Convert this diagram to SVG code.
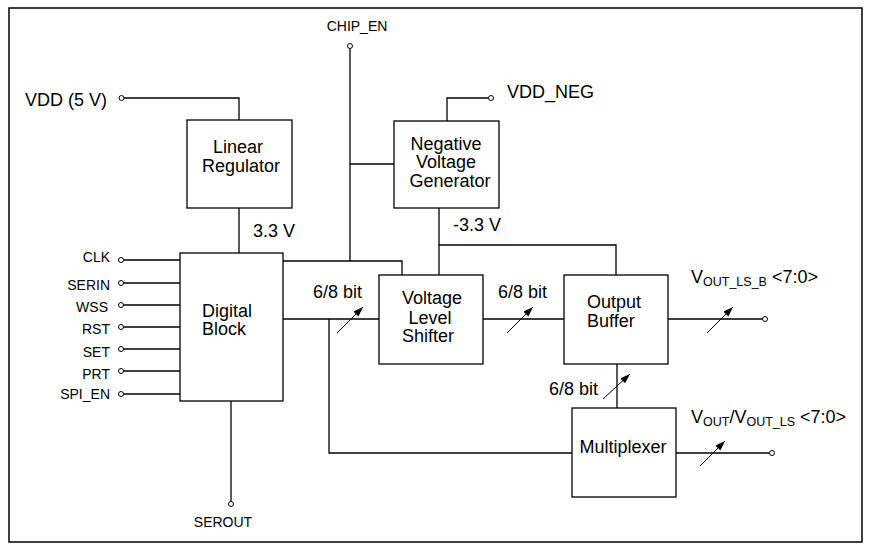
<svg xmlns="http://www.w3.org/2000/svg" width="870" height="552" viewBox="0 0 870 552">
<style>
.box{fill:#fff;stroke:#000;stroke-width:1.3}
.w{fill:none;stroke:#000;stroke-width:1.3}
.s{fill:none;stroke:#000;stroke-width:1}
.pin{fill:#fff;stroke:#000;stroke-width:1}
text{font-family:"Liberation Sans",Arial,sans-serif;fill:#000}
.t{font-size:18px}
.p{font-size:14px}
.c{text-anchor:middle}
.e{text-anchor:end}
.sub{font-size:12.5px}
</style>
<defs>
<marker id="ah" markerUnits="userSpaceOnUse" markerWidth="11" markerHeight="8" refX="10" refY="3.5" orient="auto">
<path d="M0,0 L10,3.5 L0,7 z" fill="#000"/>
</marker>
</defs>
<rect x="9" y="8" width="853" height="534" fill="#fff" stroke="#000" stroke-width="1.5"/>

<g id="connectors">
<path class="w" d="M124,98 H239 V120"/>
<path class="w" d="M239,208 V253"/>
<path class="w" d="M350,48.5 V261"/>
<path class="w" d="M350,164 H394"/>
<path class="w" d="M283,261 H402 V275"/>
<path class="w" d="M283,319 H379"/>
<path class="w" d="M329,319 V453 H572"/>
<path class="w" d="M447,121 V98 H488.5"/>
<path class="w" d="M439,208 V275"/>
<path class="w" d="M439,245 H616 V275"/>
<path class="w" d="M483,319 H564"/>
<path class="w" d="M668,319 H762.5"/>
<path class="w" d="M617,364 V408"/>
<path class="w" d="M676,453 H769.5"/>
<path class="w" d="M123.5,260 H180 M123.5,283 H180 M123.5,305 H180 M123.5,327 H180 M123.5,349 H180 M123.5,371 H180 M123.5,394 H180"/>
<path class="w" d="M231,401 V501.5"/>
<line class="s" x1="337" y1="333" x2="363" y2="307" marker-end="url(#ah)"/>
<line class="s" x1="507" y1="333" x2="533" y2="307" marker-end="url(#ah)"/>
<line class="s" x1="707" y1="333" x2="733" y2="307" marker-end="url(#ah)"/>
<line class="s" x1="603" y1="399" x2="630" y2="374" marker-end="url(#ah)"/>
<line class="s" x1="700" y1="466" x2="725" y2="441" marker-end="url(#ah)"/>
</g>

<g id="terminals">
<circle class="pin" cx="121.5" cy="98" r="2.5"/>
<circle class="pin" cx="350" cy="46" r="2.5"/>
<circle class="pin" cx="491" cy="98" r="2.5"/>
<circle class="pin" cx="765" cy="319" r="2.5"/>
<circle class="pin" cx="772" cy="453" r="2.5"/>
<circle class="pin" cx="231" cy="504" r="2.5"/>
<circle class="pin" cx="121" cy="260" r="2.5"/>
<circle class="pin" cx="121" cy="283" r="2.5"/>
<circle class="pin" cx="121" cy="305" r="2.5"/>
<circle class="pin" cx="121" cy="327" r="2.5"/>
<circle class="pin" cx="121" cy="349" r="2.5"/>
<circle class="pin" cx="121" cy="371" r="2.5"/>
<circle class="pin" cx="121" cy="394" r="2.5"/>
</g>

<g id="linear-regulator">
<rect class="box" x="187" y="120" width="105" height="88"/>
<text class="t c" x="238" y="153">Linear</text>
<text class="t c" x="241" y="172">Regulator</text>
</g>
<g id="digital-block">
<rect class="box" x="180" y="253" width="103" height="148"/>
<text class="t" x="202" y="317">Digital</text>
<text class="t" x="202" y="335">Block</text>
</g>
<g id="negative-voltage-generator">
<rect class="box" x="394" y="121" width="105" height="87"/>
<text class="t c" x="446" y="150">Negative</text>
<text class="t c" x="446" y="168">Voltage</text>
<text class="t c" x="450" y="187">Generator</text>
</g>
<g id="voltage-level-shifter">
<rect class="box" x="379" y="275" width="104" height="89"/>
<text class="t c" x="432" y="304">Voltage</text>
<text class="t c" x="430" y="324">Level</text>
<text class="t c" x="428" y="342">Shifter</text>
</g>
<g id="output-buffer">
<rect class="box" x="564" y="275" width="104" height="89"/>
<text class="t" x="587" y="308">Output</text>
<text class="t" x="587" y="327">Buffer</text>
</g>
<g id="multiplexer">
<rect class="box" x="572" y="408" width="104" height="89"/>
<text class="t c" x="623" y="453">Multiplexer</text>
</g>

<g id="labels">
<text class="t" x="25" y="106">VDD (5 V)</text>
<text class="t" x="507" y="98">VDD_NEG</text>
<text class="p c" x="357" y="31">CHIP_EN</text>
<text class="p c" x="223" y="527">SEROUT</text>
<text class="t" x="253" y="237">3.3 V</text>
<text class="t" x="453" y="231">-3.3 V</text>
<text class="t" x="313" y="298">6/8 bit</text>
<text class="t" x="498" y="298">6/8 bit</text>
<text class="t" x="549" y="395">6/8 bit</text>
<text class="p e" x="110" y="262">CLK</text>
<text class="p e" x="110" y="290">SERIN</text>
<text class="p e" x="108" y="312">WSS</text>
<text class="p e" x="110" y="334">RST</text>
<text class="p e" x="110" y="357">SET</text>
<text class="p e" x="110" y="379">PRT</text>
<text class="p e" x="110" y="399">SPI_EN</text>
<text class="t" x="691" y="283">V<tspan class="sub" dy="3">OUT_LS_B</tspan><tspan dy="-3"> &lt;7:0&gt;</tspan></text>
<text class="t" x="691" y="423">V<tspan class="sub" dy="3">OUT</tspan><tspan dy="-3">/V</tspan><tspan class="sub" dy="3">OUT_LS</tspan><tspan dy="-3"> &lt;7:0&gt;</tspan></text>
</g>
</svg>
